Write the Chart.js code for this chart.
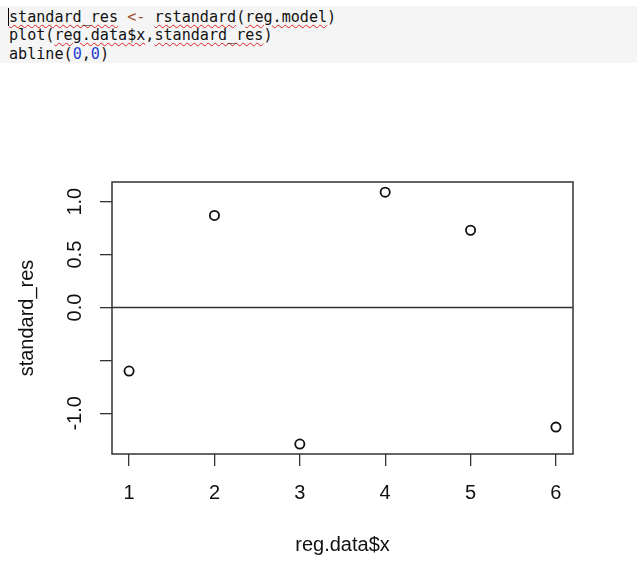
<!DOCTYPE html>
<html>
<head>
<meta charset="utf-8">
<script src="https://cdn.jsdelivr.net/npm/chart.js@4"></script>
<style>
  body { margin: 0; background: #fff; width: 637px; height: 575px; position: relative; overflow: hidden; }
  #code {
    position: absolute; left: 0; top: 6px; width: 637px; height: 57px;
    background: #f5f5f5; box-sizing: border-box; padding: 1.5px 0 0 9px;
    font-family: "DejaVu Sans Mono", "Liberation Mono", monospace; font-size: 15.1px;
    line-height: 18.7px; color: #111; white-space: pre;
  }
  .sq { text-decoration: underline wavy #e02020; text-decoration-thickness: 1px; text-underline-offset: 2px; }
  .op { color: #a0522d; }
  .num { color: #1f3fd0; }
  .cur { border-left: 1px solid #000; margin-left: -1px; }
  #chart { position: absolute; left: 0; top: 70px; }
</style>
</head>
<body>
<div id="code"><span class="cur"></span><span class="sq">standard_res</span> <span class="op">&lt;-</span> <span class="sq">rstandard</span>(<span class="sq">reg.model</span>)
plot(<span class="sq">reg.data$x</span>,<span class="sq">standard_res</span>)
abline(<span class="num">0</span>,<span class="num">0</span>)</div>
<canvas id="chart" width="637" height="505"></canvas>
<script>
// values
const xValues = [1, 2, 3, 4, 5, 6];
const standardRes = [-0.60, 0.87, -1.29, 1.09, 0.73, -1.13];
const xTicks = [1, 2, 3, 4, 5, 6];
const yTicks = [-1.0, -0.5, 0.0, 0.5, 1.0];
const yTickLabels = ['-1.0', '', '0.0', '0.5', '1.0']; // R drops -0.5 (overlap)
const ablineY = 0;

const font = { family: 'Liberation Sans, Arial, sans-serif', size: 20 };
const ink = '#333';

// box around the plot region + rotated y labels like R
const rPlot = {
  id: 'rPlot',
  afterDraw(chart) {
    const ctx = chart.ctx;
    const a = chart.chartArea;
    const y = chart.scales.y;
    ctx.save();
    ctx.strokeStyle = ink;
    ctx.lineWidth = 1.5;
    ctx.strokeRect(a.left, a.top, a.right - a.left, a.bottom - a.top);
    ctx.fillStyle = '#111';
    ctx.font = font.size + 'px ' + font.family;
    ctx.textAlign = 'center';
    ctx.textBaseline = 'middle';
    yTicks.forEach((v, i) => {
      if (!yTickLabels[i]) return;
      ctx.save();
      ctx.translate(75, y.getPixelForValue(v));
      ctx.rotate(-Math.PI / 2);
      ctx.fillText(yTickLabels[i], 0, 0);
      ctx.restore();
    });
    ctx.restore();
  }
};

new Chart(document.getElementById('chart'), {
  type: 'scatter',
  data: {
    datasets: [
      {
        data: xValues.map((x, i) => ({ x: x, y: standardRes[i] })),
        pointStyle: 'circle',
        pointRadius: 4.6,
        borderWidth: 1.8,
        borderColor: '#111',
        backgroundColor: 'rgba(0,0,0,0)'
      },
      {
        type: 'line',
        data: [{ x: 0.8, y: ablineY }, { x: 6.2, y: ablineY }],
        borderColor: ink,
        borderWidth: 1.3,
        pointRadius: 0
      }
    ]
  },
  options: {
    responsive: false,
    animation: false,
    layout: { padding: { left: 0, top: 112, right: 64, bottom: 0 } },
    plugins: { legend: { display: false }, tooltip: { enabled: false } },
    scales: {
      x: {
        type: 'linear',
        min: 0.8,
        max: 6.2,
        afterBuildTicks: s => { s.ticks = xTicks.map(v => ({ value: v })); },
        afterFit: s => { s.height = 121; },
        grid: { drawOnChartArea: false, drawTicks: true, tickLength: 12, color: ink, lineWidth: 1.3 },
        border: { display: false },
        ticks: { font: font, color: '#111', padding: 15, maxRotation: 0, callback: v => String(v) },
        title: { display: true, text: 'reg.data$x', font: font, color: '#111', padding: { top: 18, bottom: 18 } }
      },
      y: {
        type: 'linear',
        min: -1.384,
        max: 1.186,
        afterBuildTicks: s => { s.ticks = yTicks.map(v => ({ value: v })); },
        afterFit: s => { s.width = 112; },
        grid: { drawOnChartArea: false, drawTicks: true, tickLength: 12, color: ink, lineWidth: 1.3 },
        border: { display: false },
        ticks: { display: false },
        title: { display: true, text: 'standard_res', font: font, color: '#111', padding: { top: 15, bottom: 15 } }
      }
    }
  },
  plugins: [rPlot]
});
</script>
</body>
</html>
